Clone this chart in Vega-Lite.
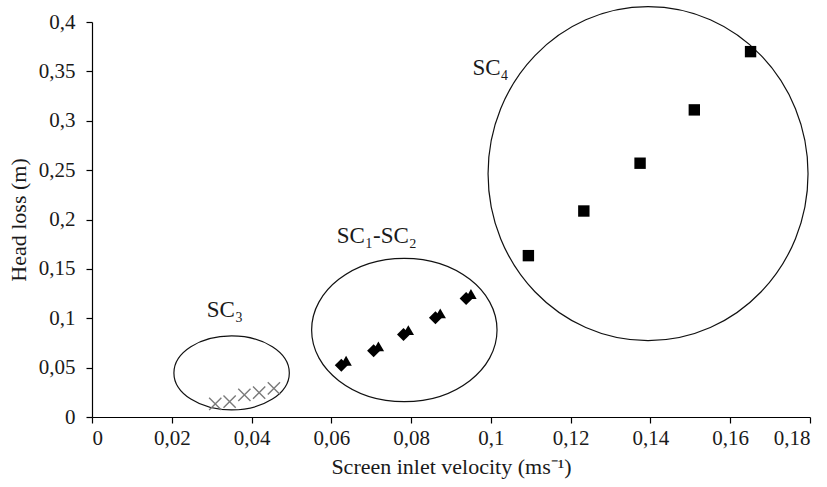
{
  "$schema": "https://vega.github.io/schema/vega-lite/v6.json",
  "width": 718,
  "height": 395,
  "autosize": {"type": "none"},
  "padding": {"left": 92, "top": 22, "right": 17, "bottom": 70},
  "background": "white",
  "config": {
    "view": {"stroke": null},
    "font": "Liberation Serif",
    "axis": {
      "grid": false,
      "domainColor": "#000000",
      "tickColor": "#000000",
      "domainWidth": 1.2,
      "tickWidth": 1.2,
      "tickSize": 6,
      "labelFont": "Liberation Serif",
      "labelFontSize": 21,
      "labelColor": "#1a1a1a",
      "titleFont": "Liberation Serif",
      "titleFontSize": 22,
      "titleFontWeight": "normal",
      "titleColor": "#1a1a1a"
    }
  },
  "datasets": {
    "points": [
      {"series": "SC3", "velocity": 0.0309, "headloss": 0.0132},
      {"series": "SC3", "velocity": 0.0345, "headloss": 0.0155},
      {"series": "SC3", "velocity": 0.0382, "headloss": 0.0223},
      {"series": "SC3", "velocity": 0.0419, "headloss": 0.0246},
      {"series": "SC3", "velocity": 0.0456, "headloss": 0.0291},
      {"series": "SC1", "velocity": 0.0625, "headloss": 0.0525},
      {"series": "SC1", "velocity": 0.0706, "headloss": 0.0670},
      {"series": "SC1", "velocity": 0.0781, "headloss": 0.0835},
      {"series": "SC1", "velocity": 0.0861, "headloss": 0.1005},
      {"series": "SC1", "velocity": 0.0938, "headloss": 0.1200},
      {"series": "SC2", "velocity": 0.0637, "headloss": 0.0570},
      {"series": "SC2", "velocity": 0.0718, "headloss": 0.0715},
      {"series": "SC2", "velocity": 0.0793, "headloss": 0.0880},
      {"series": "SC2", "velocity": 0.0873, "headloss": 0.1050},
      {"series": "SC2", "velocity": 0.0950, "headloss": 0.1245},
      {"series": "SC4", "velocity": 0.1094, "headloss": 0.1634},
      {"series": "SC4", "velocity": 0.1233, "headloss": 0.2086},
      {"series": "SC4", "velocity": 0.1374, "headloss": 0.2570},
      {"series": "SC4", "velocity": 0.1510, "headloss": 0.3110},
      {"series": "SC4", "velocity": 0.1651, "headloss": 0.3700}
    ],
    "groups": [
      {"group": "SC3", "velocity": 0.0350, "headloss": 0.0446},
      {"group": "SC1-SC2", "velocity": 0.0783, "headloss": 0.0881},
      {"group": "SC4", "velocity": 0.1394, "headloss": 0.2464}
    ],
    "labels": [
      {"label": "SC₃", "velocity": 0.0333, "headloss": 0.1016},
      {"label": "SC₁-SC₂", "velocity": 0.0714, "headloss": 0.1762},
      {"label": "SC₄", "velocity": 0.0999, "headloss": 0.3463}
    ]
  },
  "encoding": {
    "x": {
      "field": "velocity",
      "type": "quantitative",
      "scale": {"domain": [0, 0.18], "nice": false, "zero": true},
      "axis": {
        "title": "Screen inlet velocity (ms⁻¹)",
        "values": [0, 0.02, 0.04, 0.06, 0.08, 0.1, 0.12, 0.14, 0.16, 0.18],
        "labelExpr": "replace(format(datum.value, '~g'), '.', ',')",
        "labelPadding": 4,
        "titlePadding": 8
      }
    },
    "y": {
      "field": "headloss",
      "type": "quantitative",
      "scale": {"domain": [0, 0.4], "nice": false},
      "axis": {
        "title": "Head loss (m)",
        "values": [0, 0.05, 0.1, 0.15, 0.2, 0.25, 0.3, 0.35, 0.4],
        "labelExpr": "replace(format(datum.value, '~g'), '.', ',')",
        "labelPadding": 11,
        "titlePadding": 8
      }
    }
  },
  "layer": [
    {
      "data": {"name": "groups"},
      "transform": [{"filter": "datum.group == 'SC3'"}],
      "mark": {
        "type": "point",
        "shape": "M 1 0 C 1 0.354 0.552 0.641 0 0.641 C -0.552 0.641 -1 0.354 -1 0 C -1 -0.354 -0.552 -0.641 0 -0.641 C 0.552 -0.641 1 -0.354 1 0 Z",
        "size": 13317,
        "filled": false,
        "stroke": "#111111",
        "strokeWidth": 1.2,
        "opacity": 1
      }
    },
    {
      "data": {"name": "groups"},
      "transform": [{"filter": "datum.group == 'SC1-SC2'"}],
      "mark": {
        "type": "point",
        "shape": "M 1 0 C 1 0.427 0.552 0.773 0 0.773 C -0.552 0.773 -1 0.427 -1 0 C -1 -0.427 -0.552 -0.773 0 -0.773 C 0.552 -0.773 1 -0.427 1 0 Z",
        "size": 34373,
        "filled": false,
        "stroke": "#111111",
        "strokeWidth": 1.2,
        "opacity": 1
      }
    },
    {
      "data": {"name": "groups"},
      "transform": [{"filter": "datum.group == 'SC4'"}],
      "mark": {
        "type": "point",
        "shape": "M 0.958 0 C 0.958 0.552 0.529 1 0 1 C -0.529 1 -0.958 0.552 -0.958 0 C -0.958 -0.552 -0.529 -1 0 -1 C 0.529 -1 0.958 -0.552 0.958 0 Z",
        "size": 111556,
        "filled": false,
        "stroke": "#111111",
        "strokeWidth": 1.2,
        "opacity": 1
      }
    },
    {
      "data": {"name": "points"},
      "transform": [{"filter": "datum.series == 'SC3'"}],
      "mark": {
        "type": "point",
        "shape": "M -1 -1 L 1 1 M -1 1 L 1 -1",
        "size": 150,
        "filled": false,
        "stroke": "#7a7a7a",
        "strokeWidth": 1.4,
        "opacity": 1
      }
    },
    {
      "data": {"name": "points"},
      "transform": [{"filter": "datum.series == 'SC1'"}],
      "mark": {"type": "point", "shape": "diamond", "size": 170, "filled": true, "color": "#000000", "opacity": 1}
    },
    {
      "data": {"name": "points"},
      "transform": [{"filter": "datum.series == 'SC2'"}],
      "mark": {"type": "point", "shape": "triangle-up", "size": 130, "filled": true, "color": "#000000", "opacity": 1}
    },
    {
      "data": {"name": "points"},
      "transform": [{"filter": "datum.series == 'SC4'"}],
      "mark": {"type": "point", "shape": "square", "size": 130, "filled": true, "color": "#000000", "opacity": 1}
    },
    {
      "data": {"name": "labels"},
      "mark": {"type": "text", "font": "Liberation Serif", "fontSize": 23, "align": "center", "baseline": "alphabetic", "color": "#1a1a1a"},
      "encoding": {"text": {"field": "label"}}
    }
  ]
}
